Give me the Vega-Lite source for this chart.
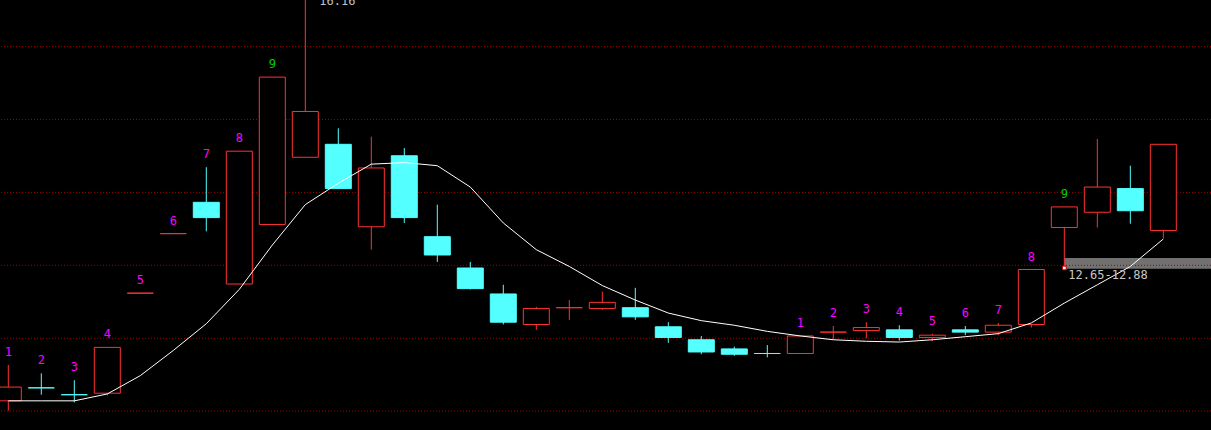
{
  "$schema": "https://vega.github.io/schema/vega-lite/v6.json",
  "width": 1211,
  "height": 430,
  "autosize": {"type": "none"},
  "padding": 0,
  "background": "#000000",
  "config": {"view": {"stroke": null}, "scale": {"continuousPadding": 0}},
  "datasets": {
    "candles": [
      {"i": 0, "o": 10.91, "h": 11.38, "l": 10.78, "c": 11.09, "dir": "up", "ma": 10.91, "tag": "1"},
      {"i": 1, "o": 11.08, "h": 11.27, "l": 10.99, "c": 11.08, "dir": "down", "ma": 10.91, "tag": "2"},
      {"i": 2, "o": 10.99, "h": 11.18, "l": 10.89, "c": 10.99, "dir": "down", "ma": 10.91, "tag": "3"},
      {"i": 3, "o": 11.01, "h": 11.61, "l": 10.98, "c": 11.61, "dir": "up", "ma": 11.00, "tag": "4"},
      {"i": 4, "o": 12.32, "h": 12.32, "l": 12.32, "c": 12.32, "dir": "up", "ma": 11.24, "tag": "5"},
      {"i": 5, "o": 13.10, "h": 13.10, "l": 13.10, "c": 13.10, "dir": "up", "ma": 11.57, "tag": "6"},
      {"i": 6, "o": 13.51, "h": 13.97, "l": 13.13, "c": 13.31, "dir": "down", "ma": 11.92, "tag": "7"},
      {"i": 7, "o": 12.44, "h": 14.18, "l": 12.44, "c": 14.18, "dir": "up", "ma": 12.37, "tag": "8"},
      {"i": 8, "o": 13.22, "h": 15.15, "l": 13.22, "c": 15.15, "dir": "up", "ma": 12.95, "tag": "9"},
      {"i": 9, "o": 14.10, "h": 16.16, "l": 14.10, "c": 14.70, "dir": "up", "ma": 13.48, "tag": null},
      {"i": 10, "o": 14.27, "h": 14.48, "l": 13.69, "c": 13.69, "dir": "down", "ma": 13.76, "tag": null},
      {"i": 11, "o": 13.19, "h": 14.37, "l": 12.89, "c": 13.96, "dir": "up", "ma": 14.01, "tag": null},
      {"i": 12, "o": 14.12, "h": 14.22, "l": 13.24, "c": 13.31, "dir": "down", "ma": 14.03, "tag": null},
      {"i": 13, "o": 13.06, "h": 13.48, "l": 12.73, "c": 12.82, "dir": "down", "ma": 13.99, "tag": null},
      {"i": 14, "o": 12.65, "h": 12.73, "l": 12.37, "c": 12.38, "dir": "down", "ma": 13.71, "tag": null},
      {"i": 15, "o": 12.31, "h": 12.43, "l": 11.91, "c": 11.94, "dir": "down", "ma": 13.24, "tag": null},
      {"i": 16, "o": 11.91, "h": 12.14, "l": 11.84, "c": 12.12, "dir": "up", "ma": 12.89, "tag": null},
      {"i": 17, "o": 12.13, "h": 12.23, "l": 11.97, "c": 12.13, "dir": "up", "ma": 12.67, "tag": null},
      {"i": 18, "o": 12.12, "h": 12.34, "l": 12.10, "c": 12.20, "dir": "up", "ma": 12.42, "tag": null},
      {"i": 19, "o": 12.13, "h": 12.39, "l": 11.97, "c": 12.01, "dir": "down", "ma": 12.23, "tag": null},
      {"i": 20, "o": 11.88, "h": 11.94, "l": 11.67, "c": 11.74, "dir": "down", "ma": 12.06, "tag": null},
      {"i": 21, "o": 11.71, "h": 11.76, "l": 11.52, "c": 11.55, "dir": "down", "ma": 11.96, "tag": null},
      {"i": 22, "o": 11.59, "h": 11.62, "l": 11.50, "c": 11.52, "dir": "down", "ma": 11.90, "tag": null},
      {"i": 23, "o": 11.53, "h": 11.64, "l": 11.48, "c": 11.53, "dir": "down", "ma": 11.82, "tag": null},
      {"i": 24, "o": 11.53, "h": 11.76, "l": 11.53, "c": 11.76, "dir": "up", "ma": 11.76, "tag": "1"},
      {"i": 25, "o": 11.81, "h": 11.89, "l": 11.71, "c": 11.81, "dir": "up", "ma": 11.71, "tag": "2"},
      {"i": 26, "o": 11.83, "h": 11.94, "l": 11.73, "c": 11.87, "dir": "up", "ma": 11.69, "tag": "3"},
      {"i": 27, "o": 11.84, "h": 11.90, "l": 11.70, "c": 11.74, "dir": "down", "ma": 11.68, "tag": "4"},
      {"i": 28, "o": 11.74, "h": 11.79, "l": 11.69, "c": 11.77, "dir": "up", "ma": 11.71, "tag": "5"},
      {"i": 29, "o": 11.84, "h": 11.89, "l": 11.77, "c": 11.81, "dir": "down", "ma": 11.75, "tag": "6"},
      {"i": 30, "o": 11.81, "h": 11.93, "l": 11.77, "c": 11.90, "dir": "up", "ma": 11.79, "tag": "7"},
      {"i": 31, "o": 11.91, "h": 12.63, "l": 11.87, "c": 12.63, "dir": "up", "ma": 11.93, "tag": "8"},
      {"i": 32, "o": 13.18, "h": 13.45, "l": 12.65, "c": 13.45, "dir": "up", "ma": 12.19, "tag": "9"},
      {"i": 33, "o": 13.38, "h": 14.34, "l": 13.18, "c": 13.71, "dir": "up", "ma": 12.43, "tag": null},
      {"i": 34, "o": 13.69, "h": 13.99, "l": 13.23, "c": 13.40, "dir": "down", "ma": 12.67, "tag": null},
      {"i": 35, "o": 13.14, "h": 14.27, "l": 13.04, "c": 14.27, "dir": "up", "ma": 13.03, "tag": null}
    ],
    "grid": [
      {"p": 15.55}, {"p": 14.595}, {"p": 13.64}, {"p": 12.685}, {"p": 11.73}, {"p": 10.777}
    ],
    "band": [
      {"from": 32, "to": 37, "lo": 12.64, "hi": 12.78}
    ],
    "notes": [
      {"i": 32, "p": 12.65, "label": "12.65-12.88"}
    ],
    "peak": [
      {"i": 9, "p": 16.16, "label": "16.16"}
    ]
  },
  "layer": [
    {
      "data": {"name": "band"},
      "mark": {"type": "rect", "color": "#717171"},
      "encoding": {
        "x": {"field": "from", "type": "quantitative", "scale": {"domain": [-0.2515, 36.445], "nice": false, "zero": false, "padding": 0}, "axis": null},
        "x2": {"field": "to"},
        "y": {"field": "lo", "type": "quantitative", "scale": {"domain": [10.528, 16.16], "nice": false, "zero": false, "padding": 0}, "axis": null},
        "y2": {"field": "hi"}
      }
    },
    {
      "data": {"name": "grid"},
      "mark": {"type": "rule", "color": "#a00000", "strokeWidth": 1, "strokeDash": [1, 2]},
      "encoding": {
        "y": {"field": "p", "type": "quantitative", "axis": null}
      }
    },
    {
      "data": {"name": "candles"},
      "mark": {"type": "rule", "strokeWidth": 1},
      "encoding": {
        "x": {"field": "i", "type": "quantitative", "axis": null},
        "y": {"field": "l", "type": "quantitative", "axis": null},
        "y2": {"field": "h"},
        "color": {"field": "dir", "type": "nominal", "scale": {"domain": ["up", "down"], "range": ["#ff3232", "#54ffff"]}, "legend": null}
      }
    },
    {
      "data": {"name": "candles"},
      "mark": {"type": "bar", "width": 26, "strokeWidth": 1},
      "encoding": {
        "x": {"field": "i", "type": "quantitative", "axis": null},
        "y": {"field": "o", "type": "quantitative", "axis": null},
        "y2": {"field": "c"},
        "fill": {"field": "dir", "type": "nominal", "scale": {"domain": ["up", "down"], "range": ["#000000", "#54ffff"]}, "legend": null},
        "stroke": {"field": "dir", "type": "nominal", "scale": {"domain": ["up", "down"], "range": ["#ff3232", "#54ffff"]}, "legend": null}
      }
    },
    {
      "data": {"name": "candles"},
      "mark": {"type": "line", "color": "#ffffff", "strokeWidth": 1},
      "encoding": {
        "x": {"field": "i", "type": "quantitative", "axis": null},
        "y": {"field": "ma", "type": "quantitative", "axis": null}
      }
    },
    {
      "data": {"name": "candles"},
      "transform": [{"filter": "datum.tag != null"}],
      "mark": {"type": "text", "font": "DejaVu Sans Mono", "fontSize": 12, "dy": -13, "baseline": "middle", "align": "center"},
      "encoding": {
        "x": {"field": "i", "type": "quantitative", "axis": null},
        "y": {"field": "h", "type": "quantitative", "axis": null},
        "text": {"field": "tag"},
        "color": {"condition": {"test": "datum.tag == '9'", "value": "#00d000"}, "value": "#ff00ff"}
      }
    },
    {
      "data": {"name": "notes"},
      "mark": {"type": "point", "shape": "square", "size": 14, "filled": true, "fill": "#ffffff", "stroke": "#c00000", "strokeWidth": 1, "opacity": 1},
      "encoding": {
        "x": {"field": "i", "type": "quantitative", "axis": null},
        "y": {"field": "p", "type": "quantitative", "axis": null}
      }
    },
    {
      "data": {"name": "notes"},
      "mark": {"type": "text", "font": "DejaVu Sans Mono", "fontSize": 12, "dx": 4, "dy": 7, "align": "left", "baseline": "middle", "color": "#c8c8c8"},
      "encoding": {
        "x": {"field": "i", "type": "quantitative", "axis": null},
        "y": {"field": "p", "type": "quantitative", "axis": null},
        "text": {"field": "label"}
      }
    },
    {
      "data": {"name": "peak"},
      "mark": {"type": "text", "font": "DejaVu Sans Mono", "fontSize": 12, "dx": 14, "dy": 1, "align": "left", "baseline": "middle", "color": "#c0c0c0"},
      "encoding": {
        "x": {"field": "i", "type": "quantitative", "axis": null},
        "y": {"field": "p", "type": "quantitative", "axis": null},
        "text": {"field": "label"}
      }
    }
  ]
}
